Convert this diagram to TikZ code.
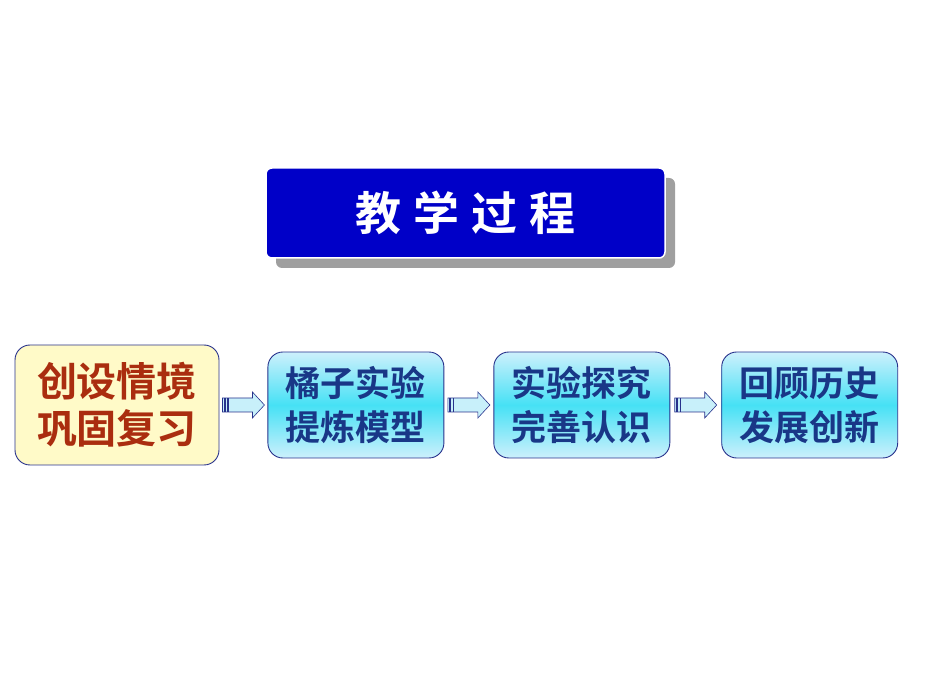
\documentclass[tikz,border=0pt]{standalone}
\usepackage{fontspec}
\newfontfamily\cjk{Noto Sans CJK SC Bold}
\usetikzlibrary{positioning,calc}
\definecolor{titleblue}{RGB}{0,0,200}
\definecolor{navyline}{RGB}{40,50,140}
\definecolor{palecream}{RGB}{255,250,200}
\definecolor{rusttext}{RGB}{170,45,15}
\definecolor{deepblue}{RGB}{25,55,135}
\definecolor{skyedge}{RGB}{205,240,252}
\definecolor{skymid}{RGB}{70,225,245}
\definecolor{arrowfill}{RGB}{200,240,250}

\newcommand\flowarrow[2]{%
  \coordinate (#1-#2) at ($(#1.east)!0.5!(#2.west)+(-21,0)$);
  \draw[arrowbody] (#1-#2) ++(0,7) -- ++(30,0) -- ++(0,6) -- ++(12,-13)
    -- ++(-12,-13) -- ++(0,6) -- ++(-30,0) -- cycle;
  \fill[navyline] (#1-#2) ++(1.5,-7) rectangle ++(2,14);
  \fill[navyline] (#1-#2) ++(5,-7) rectangle ++(1.5,14);
}

\begin{document}
\begin{tikzpicture}[x=1pt,y=1pt,
  flowbox/.style = {draw=navyline, line width=0.9pt, rounded corners=15pt,
    align=center, inner sep=0pt},
  stepbox/.style = {flowbox, font=\cjk\fontsize{35}{44}\selectfont,
    minimum width=176pt, minimum height=106pt, text=deepblue,
    top color=skyedge, bottom color=skyedge, middle color=skymid},
  startbox/.style = {flowbox, minimum width=204pt, minimum height=120pt,
    fill=palecream, text=rusttext, font=\cjk\fontsize{40}{47}\selectfont},
  arrowbody/.style = {draw=navyline, line width=0.6pt, fill=arrowfill}]
  \useasboundingbox (0,0) rectangle (930,697);

  % title with its shadow
  \fill[gray!75, rounded corners=6pt] (276,429) rectangle (675,519);
  \node[draw=white, line width=1.5pt, fill=titleblue, rounded corners=6pt,
    minimum width=399pt, minimum height=90pt, text=white,
    font=\cjk\fontsize{46}{50}\selectfont] (title) at (465.5,484)
    {教\hspace{12pt}学\hspace{12pt}过\hspace{12pt}程};

  % the four steps
  \node[startbox] (review) at (117,292) {创设情境\\巩固复习};
  \node[stepbox, right=48pt of review] (orange) {橘子实验\\提炼模型};
  \node[stepbox, right=49pt of orange] (explore) {实验探究\\完善认识};
  \node[stepbox, right=51pt of explore] (history) {回顾历史\\发展创新};

  \flowarrow{review}{orange}
  \flowarrow{orange}{explore}
  \flowarrow{explore}{history}
\end{tikzpicture}
\end{document}
